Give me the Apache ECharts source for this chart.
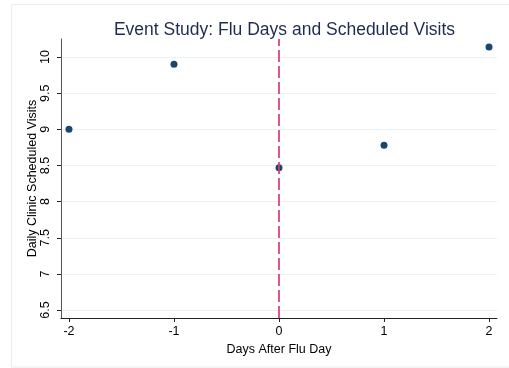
<!DOCTYPE html>
<html><head><meta charset="utf-8">
<script src="https://cdn.jsdelivr.net/npm/echarts@6/dist/echarts.min.js"></script>
<style>html,body{margin:0;padding:0;background:#fff}#c{width:509px;height:368px}</style>
</head><body><div id="c"></div>
<script>
const days = [-2, -1, 0, 1, 2];
const visits = [9.0, 9.9, 8.47, 8.78, 10.14];
const xTicks = [-2, -1, 0, 1, 2];
const yTicks = [6.5, 7, 7.5, 8, 8.5, 9, 9.5, 10];
const eventDay = 0;

const chart = echarts.init(document.getElementById('c'), null, {renderer: 'canvas'});
const font = 'Liberation Sans, Arial, sans-serif';
chart.setOption({
  backgroundColor: '#fff',
  animation: false,
  graphic: [{
    type: 'rect', shape: {x: 11.5, y: 4.5, width: 520, height: 362.5},
    style: {fill: 'none', stroke: '#e6eef0', lineWidth: 1}, silent: true, z: -1
  }],
  title: {
    text: 'Event Study: Flu Days and Scheduled Visits',
    left: 279.5, top: 16, textAlign: 'center',
    textStyle: {fontFamily: font, fontSize: 17.5, fontWeight: 'normal', color: '#1e2d4f'}
  },
  grid: {left: 61, right: 12, top: 39, bottom: 50},
  xAxis: {
    type: 'value', min: -2.076, max: 2.076,
    name: 'Days After Flu Day', nameLocation: 'middle', nameGap: 21,
    nameTextStyle: {fontFamily: font, fontSize: 12.5, color: '#000'},
    axisLine: {show: true, onZero: false, lineStyle: {color: '#222', width: 1}},
    axisTick: {show: true, length: 4, inside: false, customValues: xTicks, lineStyle: {color: '#222'}},
    axisLabel: {customValues: xTicks, fontFamily: font, fontSize: 12.5, color: '#000', margin: 7,
      formatter: v => String(v)},
    splitLine: {show: false}
  },
  yAxis: {
    type: 'value', min: 6.39, max: 10.25,
    name: 'Daily Clinic Scheduled Visits', nameLocation: 'middle', nameGap: 22,
    nameMoveOverlap: false,
    nameTextStyle: {fontFamily: font, fontSize: 12.5, color: '#000'},
    axisLine: {show: true, onZero: false, lineStyle: {color: '#555', width: 1}},
    axisTick: {show: true, length: 4, customValues: yTicks, lineStyle: {color: '#222'}},
    axisLabel: {customValues: yTicks, rotate: 90, fontFamily: font, fontSize: 12.5, color: '#000', margin: 9,
      formatter: v => String(v)},
    splitLine: {show: true, lineStyle: {color: '#eaf2f3', width: 1}}
  },
  series: [{
    type: 'scatter',
    data: days.map((d, i) => [d, visits[i]]),
    symbolSize: 7,
    itemStyle: {color: '#1a476f', opacity: 1},
    z: 3,
    markLine: {
      silent: true, symbol: 'none', animation: false,
      label: {show: false},
      lineStyle: {color: '#d63c6e', type: [12, 4], width: 1.7, opacity: 1},
      data: [{xAxis: eventDay}]
    }
  }]
});
</script></body></html>
